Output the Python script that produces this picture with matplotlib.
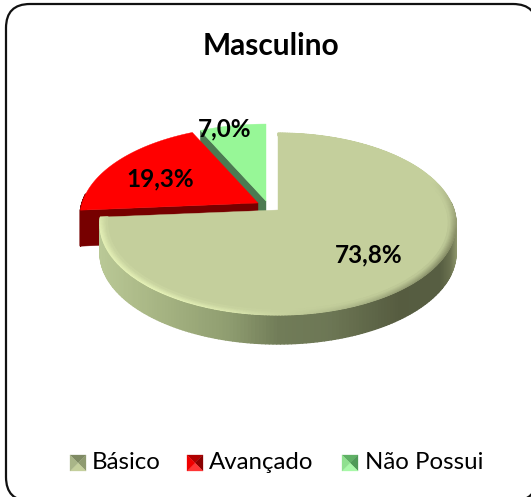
import numpy as np
import matplotlib
matplotlib.use("Agg")
import matplotlib.pyplot as plt
from matplotlib.patches import FancyBboxPatch, Polygon
from matplotlib.collections import PolyCollection
from matplotlib.colors import to_rgb

plt.rcParams['font.family'] = ['Lato', 'DejaVu Sans']

title = "Masculino"
categories = ["Básico", "Avançado", "Não Possui"]
values = [73.8, 19.3, 7.0]
labels = ["73,8%", "19,3%", "7,0%"]

W, H = 531, 497
fig = plt.figure(figsize=(W / 100, H / 100), dpi=100)
ax = fig.add_axes([0, 0, 1, 1])
ax.set_xlim(0, W)
ax.set_ylim(H, 0)
ax.axis("off")

# frame
ax.add_patch(FancyBboxPatch((30, 28), 483, 449,
                            boxstyle="round,pad=24,rounding_size=24",
                            fc="white", ec="#111111", lw=1.6, zorder=0))

# projective mapping of the tilted disc
A, B, K = 88.8, 175.9, 0.154
DEPTH = [29, 36, 30]
APEX = [(278, 210), (258, 203), (266, 201)]
TOP = [to_rgb(c) for c in ("#C4CF9C", "#FF0000", "#97F797")]
SIDE = [to_rgb(c) for c in ("#8A9A6C", "#770000", "#4C7A52")]


def proj(theta, r, apex):
    x, y = r * np.cos(theta), r * np.sin(theta)
    w = 1 + K * y
    return apex[0] + B * x / w, apex[1] - A * y / w


total = sum(values)
bounds = np.radians(90 - np.cumsum([0] + values) / total * 360)


def arc(i, r=1.0, n=200):
    th = np.linspace(bounds[i], bounds[i + 1], n)
    return th, *proj(th, r, APEX[i])


def top_face(i, z):
    th, x, y = arc(i)
    pts = [APEX[i]] + list(zip(x, y))
    ax.add_patch(Polygon(pts, closed=True, fc=TOP[i], ec=TOP[i], lw=0.3, zorder=z))


def radial_face(i, idx, color, z):
    th = bounds[idx]
    ex, ey = proj(th, 1.0, APEX[i])
    ax0, ay0 = APEX[i]
    d = DEPTH[i]
    ax.add_patch(Polygon([(ax0, ay0), (ex, ey), (ex, ey + d), (ax0, ay0 + d)],
                         closed=True, fc=color, ec=color, lw=0.3, zorder=z))


def side_wall(i, colorfn, z):
    th, x, y = arc(i, n=260)
    d = DEPTH[i]
    quads, cols = [], []
    for k in range(len(th) - 1):
        if np.sin(th[k]) > 0.1:
            continue
        quads.append([(x[k], y[k]), (x[k + 1], y[k + 1]),
                      (x[k + 1], y[k + 1] + d), (x[k], y[k] + d)])
        cols.append(colorfn(x[k]))
    ax.add_collection(PolyCollection(quads, facecolors=cols, edgecolors=cols,
                                     linewidths=1.0, zorder=z))


# wall colour of the large slice along the screen x position
wall_x = [100, 130, 170, 230, 280, 330, 400, 440, 450, 456]
wall_c = np.array([to_rgb(c) for c in ("#B9C896", "#B0BE8C", "#A3B180", "#8F9D70", "#717C58",
                                       "#6D7755", "#565C40", "#575E42", "#6B7250", "#8E966C")])


def wall_color(x):
    return tuple(np.interp(x, wall_x, wall_c[:, j]) for j in range(3))


# green slice
radial_face(2, 2, SIDE[2], 1)
top_face(2, 2)
# red slice
side_wall(1, lambda x: SIDE[1], 3)
radial_face(1, 1, SIDE[1], 3)
top_face(1, 4)
# large slice
side_wall(0, wall_color, 5)
top_face(0, 6)

# soft rim along the outer edge of the large slice
rim_x = [100, 160, 230, 290, 360, 440, 456]
rim_c = np.array([to_rgb(c) for c in ("#E4F0B6", "#E6F2B8", "#DCE8B0", "#C4CF9C", "#A9B386",
                                      "#878E68", "#8A9068")])
n_layers = 7
for layer in range(n_layers):
    r0 = 1 - 0.006 * layer
    r1 = r0 - 0.006
    th = np.linspace(bounds[0], bounds[1], 300)
    x0, y0 = proj(th, r0, APEX[0])
    x1, y1 = proj(th, r1, APEX[0])
    quads, cols = [], []
    t = 1 - layer / n_layers
    for k in range(len(th) - 1):
        weight = np.clip((0.35 - np.sin(th[k])) / 0.6, 0, 1) * t
        c = [np.interp(x0[k], rim_x, rim_c[:, j]) for j in range(3)]
        c = tuple(weight * c[j] + (1 - weight) * TOP[0][j] for j in range(3))
        quads.append([(x0[k], y0[k]), (x0[k + 1], y0[k + 1]),
                      (x1[k + 1], y1[k + 1]), (x1[k], y1[k])])
        cols.append(c)
    ax.add_collection(PolyCollection(quads, facecolors=cols, edgecolors=cols,
                                     linewidths=0.8, zorder=7))

# texts
ax.text(271, 46, title, ha="center", va="center", fontsize=21.5, fontweight="bold",
        color="black", zorder=10)
for lab, (px, py) in zip(labels, [(369, 255), (160, 179), (225, 129)]):
    ax.text(px, py, lab, ha="center", va="center", fontsize=17.5, fontweight="bold",
            color="black", zorder=10)

# legend with bevelled keys
key_x = [70, 187, 342]
text_x = [92, 209, 365]
key_c = [("#7F8A64", "#8E9A70", "#C4CF9C", "#A9B588"),
         ("#B00000", "#8A0000", "#FF3535", "#F00000"),
         ("#5FB065", "#4F9A58", "#A8F8A8", "#8FE08F")]
for kx, tx, name, shades in zip(key_x, text_x, categories, key_c):
    s = 16
    y0 = 455
    cx, cy = kx + s / 2, y0 + s / 2
    corners = [(kx, y0), (kx + s, y0), (kx + s, y0 + s), (kx, y0 + s)]
    for j in range(4):
        ax.add_patch(Polygon([corners[j], corners[(j + 1) % 4], (cx, cy)], closed=True,
                             fc=shades[j], ec=shades[j], lw=0.2, zorder=8))
    ax.text(tx, 469, name, ha="left", va="baseline", fontsize=17.3, color="black", zorder=10)

fig.savefig("out.png", dpi=100)
